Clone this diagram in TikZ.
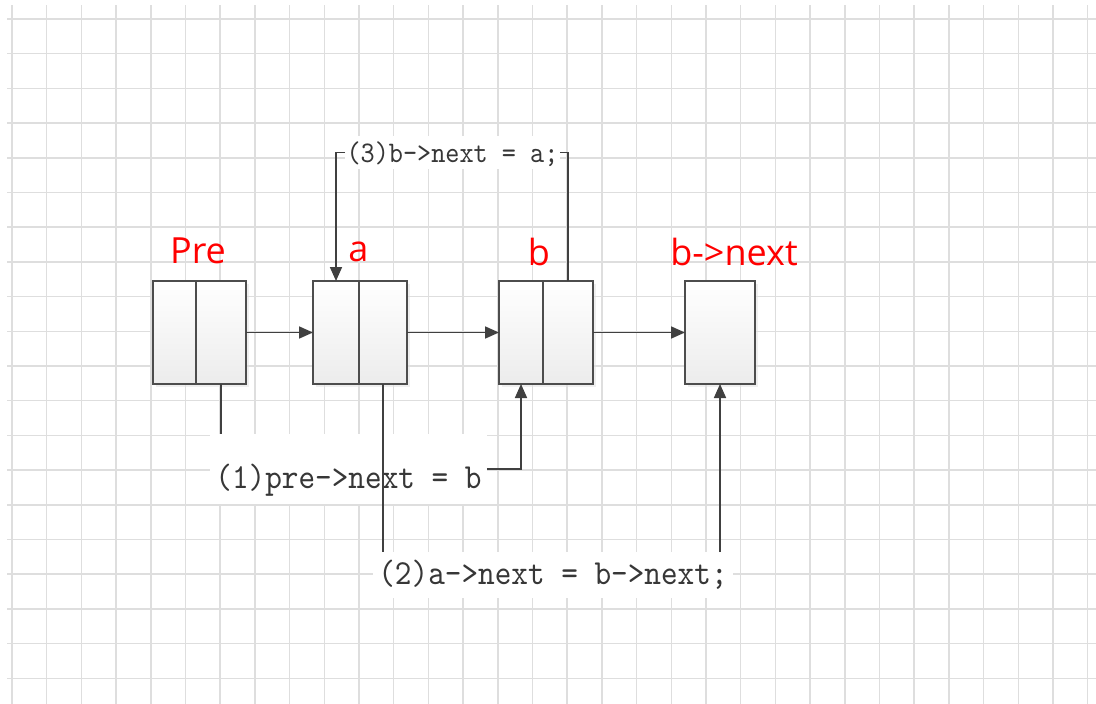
\documentclass[tikz,border=0pt]{standalone}
\usepackage{fontspec}
\usetikzlibrary{arrows.meta,shadows}
\newfontfamily\codefont[FakeStretch=0.9]{lmmono10-regular.otf}
\newfontfamily\tagfont{Open Sans}
\definecolor{gridgray}{RGB}{222,222,222}
\definecolor{edgegray}{RGB}{77,77,77}
\definecolor{linkgray}{RGB}{64,64,64}
\definecolor{codegray}{RGB}{55,55,55}
\definecolor{cellbottom}{RGB}{236,236,236}
\begin{document}
\begin{tikzpicture}[x=1pt,y=-1pt,
  gridline/.style={gridgray, line width=1.5pt},
  cell/.style={draw=edgegray, line width=2pt, top color=white, bottom color=cellbottom,
    minimum height=103pt, inner sep=0pt, outer sep=0pt, anchor=north west,
    drop shadow={shadow xshift=3pt, shadow yshift=-3pt, fill=black!12}},
  nextcell/.style={cell, anchor=west},
  tag/.style={text=red, font=\tagfont\fontsize{36}{40}\selectfont, inner sep=0pt, anchor=base},
  code/.style={text=codegray, fill=white, inner ysep=0pt, outer sep=0pt,
    font=\codefont\fontsize{35.2}{40}\selectfont},
  link/.style={draw=linkgray, line width=1.7pt},
  arrowlink/.style={link, -{Triangle[length=14pt,width=12pt]}},
]
% canvas and squared paper
\fill[white] (0,0) rectangle (1096,704);
\useasboundingbox (0,0) rectangle (1096,704);
\foreach \i in {0,...,31} \draw[gridline] ({12+34.7*\i},5) -- ({12+34.7*\i},704);
\foreach \j in {0,...,19} \draw[gridline] (7,{19+34.7*\j}) -- (1096,{19+34.7*\j});

% list cells: data part and next part
\node[cell, minimum width=43pt] (preL) at (153,281) {};
\node[nextcell, minimum width=50pt] (preR) at (preL.east) {};
\node[cell, minimum width=46pt] (aL) at (313,281) {};
\node[nextcell, minimum width=48pt] (aR) at (aL.east) {};
\node[cell, minimum width=44pt] (bL) at (499,281) {};
\node[nextcell, minimum width=50pt] (bR) at (bL.east) {};
\node[cell, minimum width=70pt] (bn) at (685,281) {};

% names of the cells
\node[tag] (tPre) at (198,263) {Pre};
\node[tag] (ta) at (358.5,261) {a};
\node[tag] (tb) at (539,265) {b};
\node[tag] (tbn) at (734,265) {b->next};

% the three steps of the swap
\node[code, inner xsep=5.3pt, text height=54pt, text depth=16pt] (l1) at (348.5,469) {(1)pre->next = b};
\node[code, inner xsep=5pt, text height=32pt, text depth=14pt] (l2) at (553,575) {(2)a->next = b->next;};
\node[code, font=\codefont\fontsize{29.9}{34}\selectfont, inner xsep=1.5pt,
  text height=26pt, text depth=7pt] (l3) at (452.5,152.5) {(3)b->next = a;};

% current links
\draw[arrowlink] (preR.east) -- (aL.west);
\draw[arrowlink] (aR.east) -- (bL.west);
\draw[arrowlink] (bR.east) -- (bn.west);

% (1) pre->next = b
\draw[link] (preR.south) -- (preR.south |- l1.north);
\draw[arrowlink] (l1.east) -| (bL.south);
% (2) a->next = b->next
\draw[link] (aR.south) -- (aR.south |- l2.north);
\draw[arrowlink] (l2.north -| bn.south) -- (bn.south);
% (3) b->next = a
\draw[link] (bR.north) |- (l3.east);
\draw[arrowlink] (l3.west) -| (aL.north);
\end{tikzpicture}
\end{document}
